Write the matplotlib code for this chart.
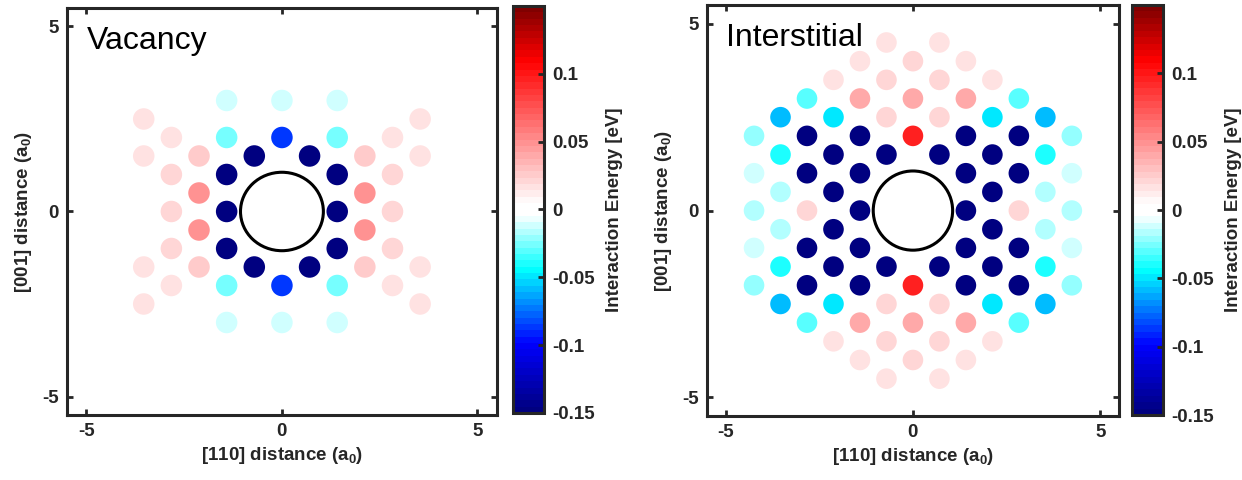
import numpy as np
import matplotlib
matplotlib.use('Agg')
import matplotlib.pyplot as plt
from matplotlib.colors import LinearSegmentedColormap, Normalize
from matplotlib.patches import Circle
from matplotlib.ticker import FixedLocator, FixedFormatter

plt.rcParams['font.family'] = ['Liberation Sans', 'DejaVu Sans']
plt.rcParams['mathtext.fontset'] = 'custom'
plt.rcParams['mathtext.bf'] = 'Liberation Sans:bold'
plt.rcParams['mathtext.rm'] = 'Liberation Sans:bold'
plt.rcParams['mathtext.default'] = 'bf'
plt.rcParams['axes.unicode_minus'] = False

DARK = '#262626'
FS = 13.5

# lattice spacing of the (110) plane of bcc, in units of a0
DX = np.sqrt(2) / 2
DY = 0.5

# -------------------------
# Vacancy: site indices (x = n*DX, y = m*DY) and energies (eV)
# -------------------------
vac_n = [-2, 0, 2,
         -5, 5,
         -4, -2, 0, 2, 4,
         -5, -3, -1, 1, 3, 5,
         -4, -2, 2, 4,
         -3, 3,
         -4, -2, 2, 4,
         -3, 3,
         -4, -2, 2, 4,
         -5, -3, -1, 1, 3, 5,
         -4, -2, 0, 2, 4,
         -5, 5,
         -2, 0, 2]
vac_m = [6, 6, 6,
         5, 5,
         4, 4, 4, 4, 4,
         3, 3, 3, 3, 3, 3,
         2, 2, 2, 2,
         1, 1,
         0, 0, 0, 0,
         -1, -1,
         -2, -2, -2, -2,
         -3, -3, -3, -3, -3, -3,
         -4, -4, -4, -4, -4,
         -5, -5,
         -6, -6, -6]
vac_E = [-0.010, -0.010, -0.010,
         0.017, 0.017,
         0.017, -0.025, -0.089, -0.025, 0.017,
         0.017, 0.028, -0.15, -0.15, 0.028, 0.017,
         0.019, -0.15, -0.15, 0.019,
         0.048, 0.048,
         0.019, -0.15, -0.15, 0.019,
         0.048, 0.048,
         0.019, -0.15, -0.15, 0.019,
         0.017, 0.028, -0.15, -0.15, 0.028, 0.017,
         0.017, -0.025, -0.089, -0.025, 0.017,
         0.017, 0.017,
         -0.010, -0.010, -0.010]

# -------------------------
# Interstitial
# -------------------------
int_n = [-1, 1,
         -2, 0, 2,
         -3, -1, 1, 3,
         -4, -2, 0, 2, 4,
         -5, -3, -1, 1, 3, 5,
         -6, -4, -2, 0, 2, 4, 6,
         -5, -3, -1, 1, 3, 5,
         -6, -4, -2, 2, 4, 6,
         -5, -3, 3, 5,
         -6, -4, -2, 2, 4, 6,
         -5, -3, 3, 5,
         -6, -4, -2, 2, 4, 6,
         -5, -3, -1, 1, 3, 5,
         -6, -4, -2, 0, 2, 4, 6,
         -5, -3, -1, 1, 3, 5,
         -4, -2, 0, 2, 4,
         -3, -1, 1, 3,
         -2, 0, 2,
         -1, 1]
int_m = [9, 9,
         8, 8, 8,
         7, 7, 7, 7,
         6, 6, 6, 6, 6,
         5, 5, 5, 5, 5, 5,
         4, 4, 4, 4, 4, 4, 4,
         3, 3, 3, 3, 3, 3,
         2, 2, 2, 2, 2, 2,
         1, 1, 1, 1,
         0, 0, 0, 0, 0, 0,
         -1, -1, -1, -1,
         -2, -2, -2, -2, -2, -2,
         -3, -3, -3, -3, -3, -3,
         -4, -4, -4, -4, -4, -4, -4,
         -5, -5, -5, -5, -5, -5,
         -6, -6, -6, -6, -6,
         -7, -7, -7, -7,
         -8, -8, -8,
         -9, -9]
int_E = [0.015, 0.015,
         0.015, 0.019, 0.015,
         0.015, 0.019, 0.019, 0.015,
         -0.030, 0.0375, 0.041, 0.0375, -0.030,
         -0.059, -0.048, 0.019, 0.019, -0.048, -0.059,
         -0.020, -0.15, -0.15, 0.098, -0.15, -0.15, -0.020,
         -0.040, -0.15, -0.15, -0.15, -0.15, -0.040,
         -0.0107, -0.15, -0.15, -0.15, -0.15, -0.0107,
         -0.0158, -0.15, -0.15, -0.0158,
         -0.0158, 0.019, -0.15, -0.15, 0.019, -0.0158,
         -0.0158, -0.15, -0.15, -0.0158,
         -0.0107, -0.15, -0.15, -0.15, -0.15, -0.0107,
         -0.040, -0.15, -0.15, -0.15, -0.15, -0.040,
         -0.020, -0.15, -0.15, 0.098, -0.15, -0.15, -0.020,
         -0.059, -0.048, 0.019, 0.019, -0.048, -0.059,
         -0.030, 0.0375, 0.041, 0.0375, -0.030,
         0.015, 0.019, 0.019, 0.015,
         0.015, 0.019, 0.015,
         0.015, 0.015]

cbar_ticks = [-0.15, -0.1, -0.05, 0, 0.05, 0.1]
cbar_labels = ['-0.15', '-0.1', '-0.05', '0', '0.05', '0.1']
axis_ticks = [-5, 0, 5]

# blue - cyan - white - red colormap
cmap = LinearSegmentedColormap.from_list(
    'bwr_energy',
    [(0.0, (0, 0, 0.5)),
     (0.1667, (0, 0, 1)),
     (0.35, (0, 1, 1)),
     (0.485, (1, 1, 1)),
     (0.515, (1, 1, 1)),
     (0.87, (1, 0, 0)),
     (1.0, (0.5, 0, 0))],
    N=64)
norm = Normalize(vmin=-0.15, vmax=0.15)

fig = plt.figure(figsize=(12.42, 4.8), dpi=100)

panels = [
    ('Vacancy', vac_n, vac_m, vac_E,
     [0.0539, 0.1354, 0.3462, 0.848], [0.4130, 0.1396, 0.025, 0.848], 240),
    ('Interstitial', int_n, int_m, int_E,
     [0.5692, 0.1333, 0.3317, 0.856], [0.9114, 0.1354, 0.025, 0.854], 220),
]

for name, n, m, E, ax_rect, cb_rect, size in panels:
    ax = fig.add_axes(ax_rect)
    x = np.array(n) * DX
    y = np.array(m) * DY
    sc = ax.scatter(x, y, c=E, cmap=cmap, norm=norm, s=size,
                    edgecolors='none', zorder=2)
    ax.add_patch(Circle((0, 0), 1.06, fill=False, edgecolor='black',
                        linewidth=2.2, zorder=3))

    ax.set_xlim(-5.5, 5.5)
    ax.set_ylim(-5.5, 5.5)
    ax.set_xticks(axis_ticks)
    ax.set_yticks(axis_ticks)
    ax.tick_params(direction='in', length=4, width=2, top=True, right=True,
                   labelsize=FS, colors=DARK, pad=6)
    for lab in ax.get_xticklabels() + ax.get_yticklabels():
        lab.set_fontweight('bold')
    for sp in ax.spines.values():
        sp.set_linewidth(2.2)
        sp.set_color(DARK)

    ax.set_xlabel('[110] distance (a$_0$)', fontsize=FS, fontweight='bold',
                  color=DARK, labelpad=3)
    ax.set_ylabel('[001] distance (a$_0$)', fontsize=FS, fontweight='bold',
                  color=DARK, labelpad=6)
    ax.text(-5.0, 4.4, name, fontsize=23, color='black', va='baseline',
            ha='left')

    cax = fig.add_axes(cb_rect)
    cb = fig.colorbar(sc, cax=cax)
    cb.outline.set_linewidth(2.2)
    cb.outline.set_edgecolor(DARK)
    cax.yaxis.set_major_locator(FixedLocator(cbar_ticks))
    cax.yaxis.set_major_formatter(FixedFormatter(cbar_labels))
    cax.tick_params(direction='in', length=4, width=2, labelsize=FS,
                    colors=DARK, pad=6)
    for lab in cax.get_yticklabels():
        lab.set_fontweight('bold')
    cb.set_label('Interaction Energy [eV]', fontsize=FS, fontweight='bold',
                 color=DARK, labelpad=8)

fig.savefig('out.png', dpi=100)
